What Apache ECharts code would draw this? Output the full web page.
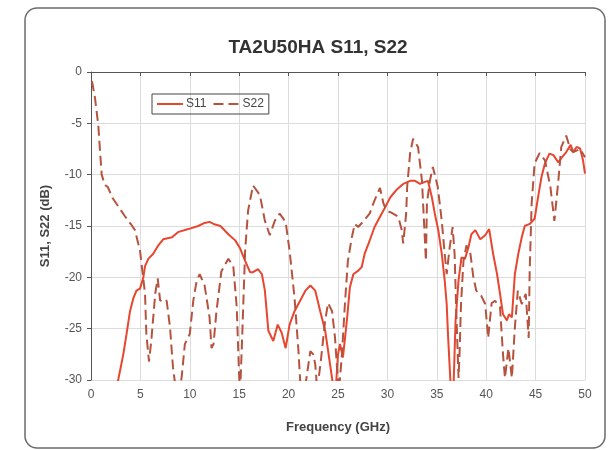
<!DOCTYPE html>
<html>
<head>
<meta charset="utf-8">
<script src="https://cdn.jsdelivr.net/npm/echarts@6/dist/echarts.min.js"></script>
<style>
  html, body { margin: 0; padding: 0; background: #fff; }
  #chart { width: 608px; height: 450px; }
</style>
</head>
<body>
<div id="chart"></div>
<script>
// S11 readings (GHz, dB)
var s11Freq = [2.5, 2.77, 3.27, 3.6, 3.95, 4.3, 4.6, 4.96, 5.3, 5.47, 5.8, 6.3, 6.8, 7.3, 8.2, 8.8, 9.85, 10.85, 11.5, 12.0,
  12.4, 13.1, 13.9, 14.6, 15.1, 15.6, 16.1, 16.4, 16.9, 17.3, 17.6, 17.95, 18.45, 18.9, 19.3, 19.7, 20.1, 20.6, 21.15, 21.7,
  22.2, 22.7, 23.2, 23.7, 24.2, 24.5, 24.8, 25.0, 25.2, 25.5, 25.9, 26.2, 26.55, 27.05, 27.4, 27.7, 28.1, 28.4, 28.7, 29.25,
  29.76, 30.3, 30.9, 31.6, 32.3, 32.8, 33.3, 33.8, 34.1, 34.5, 34.8, 35.15, 35.5, 35.8, 36.0, 36.15, 36.4, 36.7, 36.9, 37.2,
  37.5, 37.85, 38.2, 38.5, 38.9, 39.4, 39.9, 40.3, 40.7, 41.1, 41.4, 41.7, 42.1, 42.3, 42.6, 42.9, 43.25, 43.6, 43.9, 44.4,
  44.9, 45.3, 45.6, 45.95, 46.4, 46.8, 47.3, 47.6, 48.1, 48.55, 48.8, 49.15, 49.5, 49.8, 50];
var s11Db = [-31, -29.9, -27.5, -25.5, -23.3, -22, -21.3, -21.1, -20, -18.9, -18.2, -17.7, -16.9, -16.3, -16.1, -15.6, -15.3, -15.0, -14.7, -14.6,
  -14.8, -15.0, -15.8, -16.4, -17.2, -18.4, -19.5, -19.5, -19.2, -19.7, -21.3, -25.2, -26.2, -24.6, -25.4, -26.9, -24.6, -23.3, -22.3, -21.3,
  -20.8, -21.3, -23.3, -25.2, -28.5, -30.5, -30.5, -27.5, -26.5, -27.8, -24.2, -21, -19.7, -19.35, -19.0, -17.7, -16.7, -15.9, -15.1, -14.1,
  -13.2, -12.2, -11.5, -10.9, -10.6, -10.6, -10.9, -10.7, -10.6, -12.2, -13.8, -15.4, -17.7, -20.3, -22.6, -25.9, -30.5, -30.5, -24.2, -20.3,
  -18.05, -18.2, -17.1, -15.8, -15.4, -16.3, -15.9, -15.3, -17.7, -19.7, -21.6, -23.6, -24.2, -23.6, -23.9, -19.7, -17.7, -16.1, -15.0, -14.8,
  -14.3, -11.9, -10.2, -8.9, -7.95, -8.1, -8.8, -8.4, -7.8, -7.1, -7.8, -7.3, -7.45, -8.6, -9.9];

// S22 readings (GHz, dB)
var s22Freq = [0.1, 0.4, 0.74, 0.9, 1.08, 1.4, 1.7, 2.2, 2.7, 3.4, 4.1, 4.45, 4.96, 5.47, 5.6, 5.87, 6.1, 6.5, 6.75, 7.0,
  7.2, 7.66, 8.0, 8.3, 8.6, 9.0, 9.2, 9.5, 10.0, 10.35, 10.7, 11.0, 11.5, 12.0, 12.2, 12.4, 12.7, 13.2, 13.9, 14.4,
  14.75, 15.0, 15.1, 15.25, 15.6, 15.9, 16.4, 17.1, 17.6, 18.1, 18.6, 19.1, 19.7, 20.1, 20.6, 21.0, 21.2, 21.7, 22.2, 22.5,
  22.7, 22.9, 23.3, 23.7, 24.0, 24.4, 24.7, 24.9, 25.1, 25.4, 25.7, 26.0, 26.4, 26.7, 27.05, 27.6, 28.2, 28.7, 29.25, 29.6,
  29.9, 30.4, 31.1, 31.45, 31.6, 31.9, 32.0, 32.3, 32.6, 33.1, 33.5, 33.7, 33.9, 34.0, 34.3, 34.6, 35.1, 35.5, 35.8, 36.0,
  36.3, 36.6, 36.8, 37.0, 37.2, 37.3, 37.45, 37.7, 38.0, 38.4, 38.7, 39.0, 39.5, 39.9, 40.2, 40.55, 40.9, 41.4, 41.7, 41.9,
  42.25, 42.6, 42.9, 43.2, 43.6, 44.0, 44.3, 44.4, 44.6, 44.9, 45.4, 45.95, 46.5, 46.9, 47.3, 47.6, 48.1, 48.5, 48.8, 49.5, 50];
var s22Db = [-0.9, -2.5, -5.2, -7.5, -10, -11, -11.2, -12.3, -13, -14, -14.9, -15.4, -17.4, -21.6, -25.5, -28.2, -26.2, -21.6, -20.1, -22.3,
  -22.1, -22.3, -24.9, -28.8, -31, -31, -29.5, -26.5, -25.5, -22.3, -20.3, -19.7, -20.8, -23.9, -26.9, -26.5, -23.3, -19.4, -18.2, -18.9,
  -22.9, -29.8, -31, -27.2, -17.4, -13.5, -11.05, -12, -14.5, -15.9, -14.5, -13.8, -14.6, -17.4, -22, -27.2, -30.5, -30.5, -27.2, -27.5,
  -28.5, -31, -27.8, -24.2, -22.5, -23.3, -25.9, -28.8, -31, -27.5, -22.6, -18.4, -16.1, -14.8, -15.1, -14.5, -13.8, -12.5, -11.3, -12.8,
  -13.5, -13.7, -14.1, -15.4, -16.7, -13.8, -11.2, -7.9, -6.5, -7.3, -10.6, -14.5, -18.4, -12.8, -10.6, -9.25, -11.2, -14.5, -17.7, -19.7,
  -17.1, -15.1, -17.7, -24.2, -29.8, -27.5, -22.6, -18.4, -16.9, -17.7, -20.0, -21.3, -21.8, -22.6, -25.9, -22.5, -22.3, -22.9, -27.5, -29.8,
  -26.9, -29.8, -24.9, -21.3, -22.6, -21.6, -25.9, -19.4, -12.8, -8.9, -7.9, -8.6, -11.2, -14.5, -10.6, -7.3, -6.2, -7.5, -7.8, -7.5, -8.3];

var seriesNames = ['S11', 'S22'];
var xTicks = [0, 50, 5];   // min, max, step
var yTicks = [-30, 0, 5];

function pairs(xs, ys) {
  var out = [];
  for (var i = 0; i < xs.length; i++) out.push([xs[i], ys[i]]);
  return out;
}

var font = '"Liberation Sans", Arial, sans-serif';
var chart = echarts.init(document.getElementById('chart'));
chart.setOption({
  animation: false,
  backgroundColor: '#fff',
  textStyle: { fontFamily: font },
  graphic: [{
    type: 'rect',
    shape: { x: 25, y: 8, width: 580, height: 440, r: 12 },
    style: { fill: 'none', stroke: '#6b6b6b', lineWidth: 1.5 },
    z: -1
  }],
  title: {
    text: 'TA2U50HA S11, S22',
    left: 313, top: 33, textAlign: 'center',
    textStyle: { fontFamily: font, fontSize: 19, fontWeight: 'bold', color: '#333' }
  },
  legend: {
    data: seriesNames,
    left: 152, top: 94,
    orient: 'horizontal',
    borderColor: '#444', borderWidth: 1, borderRadius: 0,
    padding: [4, 5, 4, 4],
    itemGap: 6, itemWidth: 26, itemHeight: 10,
    itemStyle: { opacity: 0 },
    textStyle: { fontFamily: font, fontSize: 12, color: '#444', padding: [0, 0, 0, -2] }
  },
  grid: { left: 91, right: 23, top: 72, bottom: 70 },
  xAxis: {
    type: 'value', min: xTicks[0], max: xTicks[1], interval: xTicks[2],
    name: 'Frequency (GHz)', nameLocation: 'middle', nameGap: 41,
    nameTextStyle: { fontFamily: font, fontSize: 13, fontWeight: 'bold', color: '#444' },
    axisLine: { lineStyle: { color: '#555', width: 1 } },
    axisTick: { show: true, length: 4, lineStyle: { color: '#555' } },
    axisLabel: { fontFamily: font, fontSize: 12, color: '#555', margin: 9 },
    splitLine: { show: true, lineStyle: { color: '#dcdcdc', width: 1 } }
  },
  yAxis: {
    type: 'value', min: yTicks[0], max: yTicks[1], interval: yTicks[2],
    name: 'S11, S22 (dB)', nameLocation: 'middle', nameGap: 39, nameRotate: 90,
    nameTextStyle: { fontFamily: font, fontSize: 13, fontWeight: 'bold', color: '#444' },
    axisLine: { show: true, onZero: false, lineStyle: { color: '#555', width: 1 } },
    axisTick: { show: true, length: 4, lineStyle: { color: '#555' } },
    axisLabel: { fontFamily: font, fontSize: 12, color: '#555', margin: 9 },
    splitLine: { show: true, lineStyle: { color: '#dcdcdc', width: 1 } }
  },
  series: [{
    name: 'S11',
    type: 'line',
    data: pairs(s11Freq, s11Db),
    showSymbol: false, symbol: 'none', clip: true,
    color: '#e8462f',
    lineStyle: { color: '#e8462f', width: 2 }
  }, {
    name: 'S22',
    type: 'line',
    data: pairs(s22Freq, s22Db),
    showSymbol: false, symbol: 'none', clip: true,
    color: '#b5533f',
    lineStyle: { color: '#b5533f', width: 2, type: [10, 5] }
  }]
});
</script>
</body>
</html>
